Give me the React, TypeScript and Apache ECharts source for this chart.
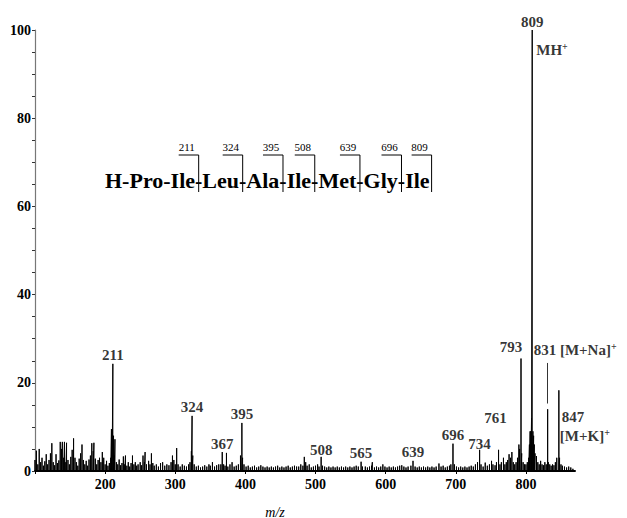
import React, { useEffect, useRef } from "react";
import * as echarts from "echarts";

// m/z positions of the sticks in the spectrum
const mzValues = [
  100, 102, 104, 106, 108, 110, 112, 114, 116, 118, 120, 122, 124, 126, 128, 130, 132, 134, 136, 138,
  139, 141, 142, 144, 145, 147, 149, 151, 153, 155, 157, 159, 161, 163, 165, 167, 169, 171, 173, 175,
  177, 179, 181, 183, 184, 186, 188, 190, 192, 194, 196, 198, 200, 202, 204, 206, 208, 209, 210, 211,
  212, 213, 214, 216, 218, 220, 222, 224, 226, 228, 229, 231, 233, 235, 237, 239, 241, 243, 245, 247,
  250, 252, 254, 256, 257, 259, 262, 264, 266, 268, 270, 273, 276, 279, 282, 285, 288, 291, 294, 296,
  298, 300, 302, 304, 307, 310, 313, 316, 319, 321, 323, 324, 325, 327, 330, 333, 336, 339, 342, 345,
  348, 350, 353, 356, 359, 362, 365, 367, 369, 371, 373, 375, 378, 381, 384, 387, 390, 393, 395, 396,
  398, 401, 404, 407, 410, 413, 416, 419, 422, 425, 428, 431, 434, 437, 440, 443, 446, 449, 452, 455,
  458, 461, 464, 467, 470, 473, 476, 479, 482, 484, 486, 488, 491, 494, 497, 500, 503, 505, 508, 510,
  513, 516, 519, 522, 525, 528, 531, 534, 537, 540, 543, 546, 549, 552, 555, 558, 561, 565, 567, 571,
  574, 577, 580, 581, 584, 587, 590, 593, 596, 599, 602, 605, 608, 611, 614, 617, 620, 623, 626, 629,
  632, 636, 639, 642, 645, 648, 651, 654, 657, 660, 663, 666, 669, 672, 676, 679, 682, 685, 688, 691,
  693, 696, 698, 701, 704, 707, 710, 713, 716, 719, 722, 725, 728, 731, 734, 736, 739, 742, 745, 748,
  751, 753, 756, 758, 761, 763, 765, 768, 770, 772, 774, 776, 778, 780, 782, 784, 786, 788, 790, 791,
  793, 794, 796, 798, 800, 802, 804, 805, 806, 807, 808, 809, 810, 811, 812, 813, 815, 817, 819, 821,
  823, 825, 827, 829, 831, 832, 834, 836, 838, 840, 842, 844, 847, 848, 850, 852, 855, 858, 861, 864,
  867,
];

// relative intensities (%), one per m/z above
const intensities = [
  2.5, 4.6, 1.5, 5.0, 2.0, 3.0, 1.2, 2.2, 3.8, 1.5, 2.5, 4.0, 6.3, 2.0, 1.3, 3.8, 1.8, 2.4, 6.6, 5.0,
  6.6, 3.0, 6.6, 2.0, 6.4, 2.5, 1.5, 3.2, 4.8, 7.4, 3.0, 2.0, 1.2, 2.8, 4.0, 6.0, 2.5, 1.5, 2.3, 1.2,
  2.6, 3.5, 6.3, 4.5, 6.4, 2.8, 1.5, 2.5, 3.0, 2.0, 4.3, 3.0, 1.5, 2.3, 1.2, 1.8, 3.0, 9.5, 9.5, 24.3,
  8.0, 3.5, 7.2, 2.0, 1.5, 2.6, 1.3, 1.8, 3.3, 1.5, 3.5, 1.2, 2.0, 1.0, 1.8, 3.5, 1.5, 2.0, 1.2, 1.5,
  2.0, 1.3, 3.5, 2.0, 4.3, 1.5, 2.3, 1.5, 4.0, 1.8, 1.2, 1.5, 1.0, 1.8, 2.0, 1.2, 1.5, 1.3, 2.0, 3.5,
  2.5, 1.5, 5.2, 1.5, 1.0, 1.5, 1.2, 1.0, 1.5, 2.0, 4.5, 12.5, 3.5, 1.5, 1.0, 1.2, 0.8, 1.0, 1.3, 1.0,
  1.5, 1.2, 2.0, 1.0, 1.3, 1.5, 1.5, 4.3, 1.5, 1.2, 4.1, 1.0, 1.5, 2.0, 1.0, 1.2, 1.5, 3.5, 10.9, 3.0,
  1.5, 1.0, 1.2, 0.8, 1.0, 1.2, 0.8, 1.0, 1.3, 1.0, 0.8, 1.0, 0.8, 1.0, 0.8, 1.0, 1.2, 0.8, 1.0, 0.8,
  1.0, 1.2, 0.8, 1.0, 1.2, 1.0, 1.0, 1.5, 1.2, 3.2, 2.0, 1.2, 1.5, 0.8, 1.0, 1.2, 1.5, 1.0, 3.2, 1.2,
  1.0, 0.8, 1.0, 0.8, 1.0, 0.8, 1.0, 0.8, 1.0, 0.8, 1.0, 0.8, 1.0, 0.8, 1.0, 1.2, 1.0, 2.1, 1.0, 1.0,
  0.8, 1.0, 1.2, 2.0, 0.8, 1.0, 0.8, 1.0, 1.5, 1.0, 0.8, 1.0, 0.8, 1.0, 0.8, 1.0, 1.2, 1.3, 1.0, 0.8,
  1.0, 1.2, 2.3, 1.0, 0.8, 1.0, 0.8, 1.0, 0.8, 1.0, 0.8, 1.0, 0.8, 1.0, 1.7, 1.0, 1.2, 0.8, 1.0, 1.2,
  1.5, 6.2, 1.5, 1.0, 0.8, 1.0, 0.8, 1.0, 0.8, 1.0, 1.2, 1.0, 1.5, 2.0, 4.8, 1.5, 1.0, 1.9, 1.2, 1.5,
  2.3, 1.5, 1.3, 2.0, 4.8, 1.5, 2.0, 3.0, 1.5, 2.0, 2.5, 3.8, 3.0, 4.3, 2.0, 1.5, 2.0, 3.0, 6.0, 5.0,
  25.5, 4.0, 2.0, 1.5, 1.5, 2.0, 3.0, 6.0, 9.0, 9.0, 12.0, 100, 9.0, 8.0, 6.0, 4.0, 3.4, 2.0, 1.5, 2.3,
  1.5, 1.3, 2.0, 1.5, 14.0, 2.0, 1.5, 1.2, 1.5, 1.3, 2.0, 3.0, 18.3, 3.0, 1.5, 1.2, 1.0, 0.8, 1.0, 0.8,
  0.5,
];

// peaks that carry an m/z label
const labeledPeaks = [211, 324, 367, 395, 508, 565, 639, 696, 734, 761, 793, 809, 831, 847];

// x-axis tick labels
const xTickLabels = [200, 300, 400, 500, 600, 700, 800];

// sequence annotation
const residues = ["H-Pro-Ile", "Leu", "Ala", "Ile", "Met", "Gly", "Ile"];
const fragmentMasses = [211, 324, 395, 508, 639, 696, 809];

const SERIF = '"Liberation Serif", "Times New Roman", serif';

function intensityAt(m: number): number {
  const i = mzValues.indexOf(m);
  return i >= 0 ? intensities[i] : 0;
}

export default function App() {
  const ref = useRef<HTMLDivElement>(null);

  useEffect(() => {
    if (!ref.current) return;
    const chart = echarts.init(ref.current, null, { renderer: "svg" });

    // stick spectrum: each peak drawn as a vertical stick from the baseline
    const stickData: number[][] = [];
    mzValues.forEach((m, i) => {
      stickData.push([m, 0], [m, intensities[i]], [m, 0]);
    });

    const labelFont = { fontFamily: SERIF, fontWeight: "bold" as const, fontSize: 15, color: "#000" };

    const labelStyle: Record<number, any> = {
      508: { offset: [0, 2] },
      734: { offset: [0, 3] },
      761: { offset: [-3, -23] },
      793: { offset: [-10, -3] },
      831: {
        align: "left",
        offset: [-14, -49],
        formatter: "831 {b|[M+Na]}{sup|+}",
      },
      847: { align: "left", offset: [3, 35] },
    };

    const rich = {
      b: { ...labelFont },
      sup: { fontFamily: SERIF, fontWeight: "bold", fontSize: 10, color: "#000", verticalAlign: "top", padding: [0, 0, 8, 0] },
    };

    const labelItems: any[] = labeledPeaks.map((m) => {
      const st = labelStyle[m] || {};
      return {
        value: [m, intensityAt(m)],
        label: {
          show: true,
          position: "top",
          distance: 1,
          formatter: st.formatter || String(m),
          align: st.align,
          offset: st.offset || [0, 0],
          ...labelFont,
          rich,
        },
      };
    });
    // ion / adduct labels
    labelItems.push({
      value: [809, intensityAt(809)],
      label: {
        show: true,
        position: "top",
        distance: 1,
        align: "left",
        offset: [4, 30],
        formatter: "{b|MH}{sup|+}",
        ...labelFont,
        rich,
      },
    });
    labelItems.push({
      value: [847, intensityAt(847)],
      label: {
        show: true,
        position: "top",
        distance: 1,
        align: "left",
        offset: [1, 56],
        formatter: "{b|[M+K]}{sup|+}",
        ...labelFont,
        rich,
      },
    });

    // sequence annotation: one continuous string, cleavage brackets at the hyphens
    const seqFont = `bold 22px ${SERIF}`;
    const seqText = residues.join("-");
    const seqX = 105;
    const seqY = 180;
    const canvas = document.createElement("canvas");
    const ctx = canvas.getContext("2d");
    const measure = (s: string) => {
      if (!ctx) return s.length * 10;
      ctx.font = seqFont;
      return ctx.measureText(s).width;
    };
    const hyphenW = measure("-");
    const cutX: number[] = [];
    for (let i = 0; i < residues.length; i++) {
      const prefix = residues.slice(0, i + 1).join("-");
      const w = measure(prefix);
      if (i < residues.length - 1) cutX.push(seqX + w + hyphenW / 2);
      else cutX.push(seqX + w + 2);
    }

    const graphic: any[] = [
      {
        type: "text",
        x: seqX,
        y: seqY,
        style: {
          text: seqText,
          font: seqFont,
          fill: "#000",
          textAlign: "left",
          textVerticalAlign: "middle",
        },
      },
    ];
    fragmentMasses.forEach((fm, i) => {
      const cx = cutX[i];
      graphic.push({
        type: "text",
        x: cx - 12,
        y: 147,
        style: {
          text: String(fm),
          font: `11px ${SERIF}`,
          fill: "#000",
          textAlign: "center",
          textVerticalAlign: "middle",
        },
      });
      graphic.push({
        type: "polyline",
        shape: { points: [[cx - 20, 155], [cx, 155], [cx, 192]] },
        style: { stroke: "#000", lineWidth: 1, fill: null },
      });
    });
    graphic.push({
      type: "text",
      x: 275,
      y: 512,
      style: {
        text: "m/z",
        font: `italic 14px ${SERIF}`,
        fill: "#000",
        textAlign: "center",
        textVerticalAlign: "middle",
      },
    });

    chart.setOption({
      animation: false,
      backgroundColor: "#fff",
      grid: { left: 35, right: 52, top: 30, bottom: 47, containLabel: false },
      xAxis: {
        type: "value",
        min: 100,
        max: 870,
        interval: 100,
        axisLine: { show: true, lineStyle: { color: "#000", width: 2 } },
        axisTick: { show: true, length: 3, lineStyle: { color: "#000" } },
        axisLabel: {
          margin: 6,
          fontFamily: SERIF,
          fontWeight: "bold",
          fontSize: 14,
          color: "#000",
          showMaxLabel: false,
          formatter: (v: number) => (xTickLabels.indexOf(v) >= 0 ? String(v) : ""),
        },
        splitLine: { show: false },
      },
      yAxis: {
        type: "value",
        min: 0,
        max: 100,
        interval: 20,
        axisLine: { show: true, lineStyle: { color: "#777", width: 1.2 } },
        axisTick: { show: true, length: 3, lineStyle: { color: "#333" } },
        minorTick: { show: true, splitNumber: 4, length: 3, lineStyle: { color: "#333" } },
        axisLabel: {
          margin: 4,
          fontFamily: SERIF,
          fontWeight: "bold",
          fontSize: 14,
          color: "#000",
        },
        splitLine: { show: false },
      },
      series: [
        {
          type: "line",
          data: stickData,
          symbol: "none",
          lineStyle: { color: "#000", width: 1 },
          silent: true,
        },
        {
          type: "scatter",
          data: labelItems,
          symbolSize: 0,
          silent: true,
          markLine: {
            silent: true,
            symbol: ["none", "arrow"],
            symbolSize: [0, 6],
            label: { show: false },
            lineStyle: { color: "#000", width: 0.8, type: "solid" },
            data: [[{ coord: [830, 24.5] }, { coord: [830, 15.3] }]],
          },
        },
      ],
      graphic,
    });

    return () => chart.dispose();
  }, []);

  return (
    <div
      ref={ref}
      style={{ position: "fixed", left: 0, top: 0, width: 627, height: 518, background: "#fff" }}
    />
  );
}
